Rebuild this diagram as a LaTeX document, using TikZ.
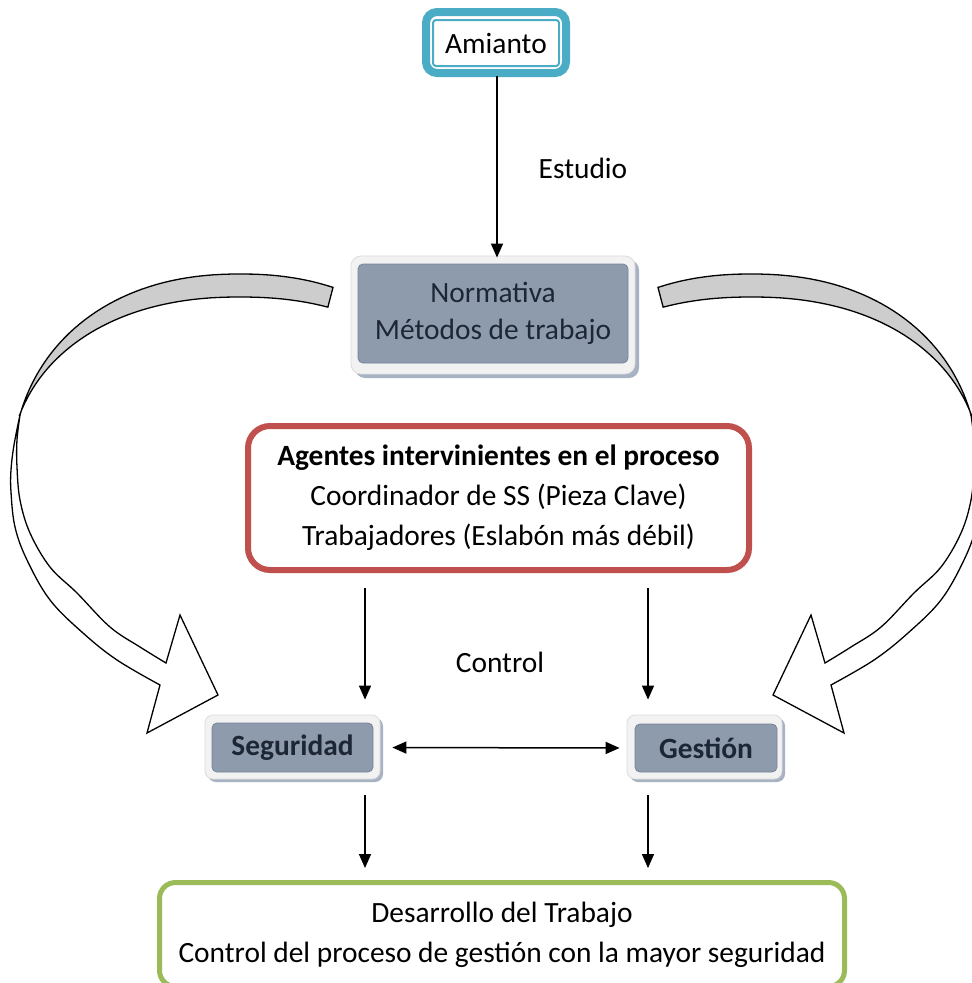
\documentclass[tikz,border=0pt]{standalone}
\usepackage{fontspec}
\setmainfont{Carlito}
\usetikzlibrary{arrows.meta}
\definecolor{tealc}{HTML}{4BACC6}
\definecolor{redc}{HTML}{C0504D}
\definecolor{greenc}{HTML}{9BBB59}
\definecolor{slatec}{HTML}{8E9BAC}
\definecolor{slateedge}{HTML}{76839A}
\definecolor{framec}{HTML}{F2F2F2}
\definecolor{frameedge}{HTML}{DCDCDC}
\definecolor{shadowc}{HTML}{A7B3C3}
\definecolor{darktext}{HTML}{1D2635}
\definecolor{ribgrayc}{HTML}{CDCDCD}
% superellipse helpers (pixel coordinates, y downwards)
\newcommand\ribbonarrow{%
  \filldraw[ribbongray]
    plot[domain=68.1:164.06, samples=50, variable=\t]
      ({240+228*cos(\t)*pow(abs(cos(\t))+0.00001,-0.091)}, {478-204*pow(abs(sin(\t)),0.909)})
    -- plot[domain=161.76:69.8, samples=50, variable=\t]
      ({240+231*cos(\t)*pow(abs(cos(\t))+0.00001,-0.091)}, {478-181*pow(abs(sin(\t)),0.909)})
    -- cycle;
  \filldraw[ribbonwhite]
    plot[smooth, tension=0.6] coordinates {(20,415) (14,445) (11,470) (11,492) (15,527) (27,560) (50,600) (83,633) (117,660) (160,685)}
    -- (147,733) -- (218,695) -- (180,615) -- (166,663)
    -- plot[smooth, tension=0.6] coordinates {(166,663) (140,647) (110,627) (77,593) (50,567) (30,533) (20,500) (17,467) (17,440) (20,415)}
    -- cycle;
}
\begin{document}
\begin{tikzpicture}[x=1pt,y=-1pt,
  txt/.style={font=\fontsize{29.4}{40}\selectfont, inner sep=0pt, align=center},
  ribbongray/.style={fill=ribgrayc, draw=black, line width=1.3pt},
  ribbonwhite/.style={fill=white, draw=black, line width=1.3pt},
  arr/.style={draw=black, line width=1.5pt, -{Triangle[length=14pt,width=12pt]}},
  darr/.style={draw=black, line width=1.5pt, {Triangle[length=14pt,width=12pt]}-{Triangle[length=14pt,width=12pt]}},
  shadowbox/.style={fill=shadowc, draw=none, rounded corners=10pt},
  framebox/.style={fill=framec, draw=frameedge, line width=0.8pt, rounded corners=10pt},
  slatebox/.style={txt, fill=slatec, draw=slateedge, line width=0.8pt, rounded corners=5pt, text=darktext},
]
\useasboundingbox (0,0) rectangle (972,983);
\fill[white] (0,0) rectangle (972,983);

% curved ribbon arrows
\ribbonarrow
\begin{scope}[shift={(991,0)}, xscale=-1]
  \ribbonarrow
\end{scope}

% Amianto
\draw[tealc, line width=8pt, rounded corners=11pt] (426,12) rectangle (566,73);
\node[txt, draw=tealc, line width=2pt, rounded corners=3pt, minimum width=126pt, minimum height=46pt] (amianto) at (496,43) {Amianto};

% Normativa
\fill[shadowbox] (355,260) rectangle (639,378);
\filldraw[framebox] (351,256) rectangle (635,374);
\node[slatebox, font=\fontsize{29.4}{37.5}\selectfont, minimum width=270pt, minimum height=99pt] (normativa) at (493,313.5) {Normativa\\Métodos de trabajo};

% Agentes
\node[txt, draw=redc, line width=6pt, rounded corners=22pt, minimum width=501pt, minimum height=144pt] (agentes) at (498.5,498) {\textbf{Agentes intervinientes en el proceso}\\Coordinador de SS (Pieza Clave)\\Trabajadores (Eslabón más débil)};

% Seguridad / Gestion
\fill[shadowbox, rounded corners=8pt] (208,718) rectangle (383,782);
\filldraw[framebox, rounded corners=8pt] (205,715) rectangle (380,779);
\node[slatebox, minimum width=161pt, minimum height=49pt] (seg) at (292.5,747.5) {\textbf{Seguridad}};
\fill[shadowbox, rounded corners=8pt] (630,718) rectangle (785,782);
\filldraw[framebox, rounded corners=8pt] (627,715) rectangle (782,779);
\node[slatebox, minimum width=142pt, minimum height=48pt] (ges) at (706,748) {\textbf{Gestión}};

% bottom box
\node[txt, draw=greenc, line width=5pt, rounded corners=16pt, minimum width=685pt, minimum height=104pt] (desarrollo) at (502,934.5) {Desarrollo del Trabajo\\Control del proceso de gestión con la mayor seguridad};

% labels
\node[txt, anchor=base] (estudio) at (583,178) {Estudio};
\node[txt, anchor=base] (control) at (500,672) {Control};

% connectors
\coordinate (cl) at (365,0);
\coordinate (cr) at (648,0);
\draw[arr, shorten <=9pt, shorten >=6pt] (amianto.south -| 497,0) -- (normativa.north -| 497,0);
\draw[arr, shorten <=15pt, shorten >=23pt] (agentes.south -| cl) -- (seg.north -| cl);
\draw[arr, shorten <=15pt, shorten >=24pt] (agentes.south -| cr) -- (ges.north -| cr);
\draw[darr, shorten <=19pt, shorten >=15pt] (seg.east) -- (ges.west);
\draw[arr, shorten <=23pt, shorten >=12pt] (seg.south -| cl) -- (desarrollo.north -| cl);
\draw[arr, shorten <=23pt, shorten >=12pt] (ges.south -| cr) -- (desarrollo.north -| cr);
\end{tikzpicture}
\end{document}
